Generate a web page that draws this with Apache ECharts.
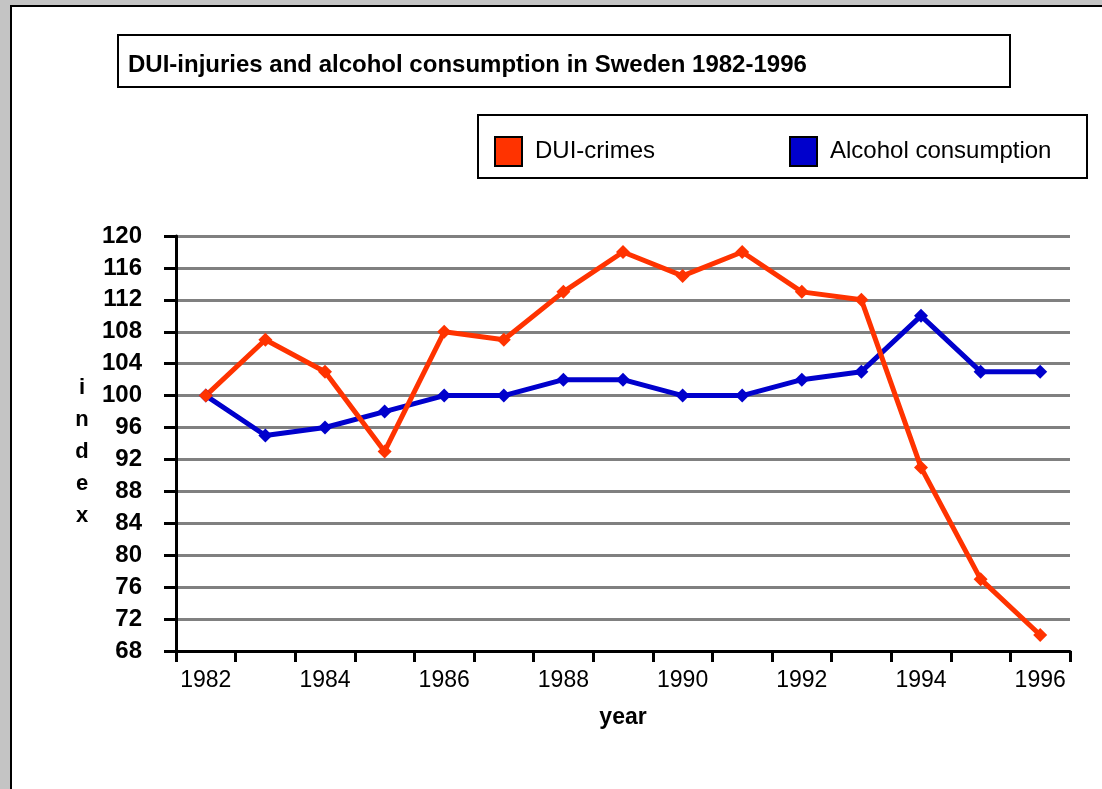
<!DOCTYPE html>
<html>
<head>
<meta charset="utf-8">
<script src="https://cdn.jsdelivr.net/npm/echarts@6/dist/echarts.min.js"></script>
<style>
  html, body { margin: 0; padding: 0; }
  #chart { width: 1102px; height: 789px; }
</style>
</head>
<body>
<div id="chart"></div>
<script>
// years on the x axis
let years = ['1982', '1983', '1984', '1985', '1986', '1987', '1988', '1989',
    '1990', '1991', '1992', '1993', '1994', '1995', '1996'];
// index values, 1982 = 100
let duiCrimes = [100, 107, 103, 93, 108, 107, 113, 118, 115, 118, 113, 112, 91, 77, 70];
let alcohol = [100, 95, 96, 98, 100, 100, 102, 102, 100, 100, 102, 103, 110, 103, 103];
let yMin = 68, yMax = 120, yStep = 4;

let font = 'Liberation Sans, Arial, sans-serif';
let chart = echarts.init(document.getElementById('chart'));

let legendText = {fontFamily: font, fontSize: 24, color: '#000', padding: [5, 0, 0, 8]};

let option = {
    backgroundColor: '#c4c4c4',
    animation: false,
    title: {
        text: 'DUI-injuries and alcohol consumption in Sweden 1982-1996',
        left: 128,
        top: 53,
        padding: 0,
        textStyle: {
            fontFamily: font,
            fontSize: 24,
            fontWeight: 'bold',
            color: '#000'
        }
    },
    // two legends so each item sits where it does in the picture
    legend: [
        {
            data: ['DUI-crimes'],
            icon: 'rect',
            left: 494,
            top: 136,
            padding: 0,
            itemWidth: 27,
            itemHeight: 29,
            itemStyle: {borderColor: '#000', borderWidth: 2},
            textStyle: legendText
        },
        {
            data: ['Alcohol consumption'],
            icon: 'rect',
            left: 789,
            top: 136,
            padding: 0,
            itemWidth: 27,
            itemHeight: 29,
            itemStyle: {borderColor: '#000', borderWidth: 2},
            textStyle: legendText
        }
    ],
    grid: {
        left: 176,
        right: 32,
        top: 236,
        bottom: 138
    },
    xAxis: {
        type: 'category',
        data: years,
        boundaryGap: true,
        name: 'year',
        nameLocation: 'middle',
        nameGap: 55,
        nameTextStyle: {fontFamily: font, fontSize: 23, fontWeight: 'bold', color: '#000'},
        axisLine: {lineStyle: {color: '#000', width: 3}},
        axisTick: {show: true, interval: 0, length: 11, lineStyle: {color: '#000', width: 3}},
        axisLabel: {
            interval: 1,
            margin: 18,
            fontFamily: font,
            fontSize: 23,
            color: '#000'
        },
        splitLine: {show: false}
    },
    yAxis: {
        type: 'value',
        min: yMin,
        max: yMax,
        interval: yStep,
        axisLine: {show: true, lineStyle: {color: '#000', width: 3}},
        axisTick: {show: true, length: 12, lineStyle: {color: '#000', width: 3}},
        axisLabel: {
            margin: 34,
            fontFamily: font,
            fontSize: 24,
            fontWeight: 'bold',
            color: '#000',
            padding: [2, 0, 0, 0]
        },
        splitLine: {show: true, lineStyle: {color: '#808080', width: 3}}
    },
    series: [
        {
            name: 'Alcohol consumption',
            type: 'line',
            data: alcohol,
            symbol: 'diamond',
            symbolSize: 14,
            lineStyle: {color: '#0000cc', width: 5},
            itemStyle: {color: '#0000cc'},
            emphasis: {disabled: true}
        },
        {
            name: 'DUI-crimes',
            type: 'line',
            data: duiCrimes,
            symbol: 'diamond',
            symbolSize: 14,
            lineStyle: {color: '#ff3300', width: 5},
            itemStyle: {color: '#ff3300'},
            emphasis: {disabled: true}
        }
    ],
    graphic: [
        // white sheet with the black frame on the top and left
        {
            type: 'rect',
            z: -100,
            shape: {x: 11, y: 6, width: 1200, height: 900},
            style: {fill: '#fff', stroke: '#000', lineWidth: 2}
        },
        // title box
        {
            type: 'rect',
            z: -50,
            shape: {x: 118, y: 35, width: 892, height: 52},
            style: {fill: '#fff', stroke: '#000', lineWidth: 2}
        },
        // legend box
        {
            type: 'rect',
            z: -50,
            shape: {x: 478, y: 115, width: 609, height: 63},
            style: {fill: '#fff', stroke: '#000', lineWidth: 2}
        },
        // y axis name, one letter per line
        {
            type: 'text',
            x: 82,
            y: 452,
            style: {
                text: 'i\nn\nd\ne\nx',
                font: 'bold 22px ' + font,
                lineHeight: 32,
                fill: '#000',
                align: 'center',
                verticalAlign: 'middle'
            }
        }
    ]
};

chart.setOption(option);
</script>
</body>
</html>
